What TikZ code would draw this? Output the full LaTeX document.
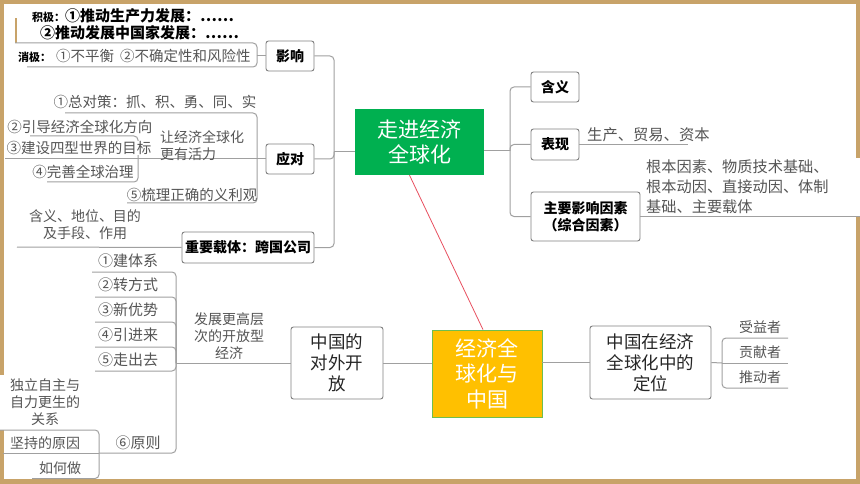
\documentclass[tikz,border=0pt]{standalone}
\usepackage{fontspec}
\setmainfont{Noto Sans CJK SC}
\definecolor{tanc}{RGB}{200,163,105}
\definecolor{boxc}{RGB}{128,128,128}
\definecolor{linec}{RGB}{160,160,160}
\definecolor{leafc}{RGB}{85,85,85}
\definecolor{greenc}{RGB}{0,176,80}
\definecolor{yellowc}{RGB}{255,192,0}
\definecolor{redc}{RGB}{232,80,96}
\definecolor{ybord}{RGB}{110,190,80}
\begin{document}
\begin{tikzpicture}[x=1pt,y=-1pt,
  box/.style={draw=boxc, rounded corners=2.5, fill=white, line width=0.9, text=black,
    font=\bfseries\fontsize{14}{17}\selectfont, inner sep=0, align=center},
  bigbox/.style={draw=boxc, rounded corners=2.5, fill=white, line width=0.9, text=black!85,
    font=\fontsize{17.5}{21}\selectfont, inner sep=0, align=center},
  leaf/.style={text=leafc, font=\fontsize{14.5}{17}\selectfont, inner sep=0, align=center},
  conn/.style={draw=linec, line width=1, rounded corners=4}]
\useasboundingbox (0,0) rectangle (860,484);
\fill[tanc] (0,0) rectangle (860,484);
\fill[white] (4,4) rectangle (856,479);
\fill[tanc] (15,18) rectangle (17,43);
\fill[white] (640,158) rectangle (860,216);
\fill[white] (0,375) rectangle (99,430);

% main boxes
\node[box, minimum width=48, minimum height=30] (yx) at (290,56) {影响};
\node[box, minimum width=48, minimum height=30] (yd) at (290,159) {应对};
\node[box, minimum width=132, minimum height=31] (zy) at (248,247.5) {重要载体：跨国公司};
\node[fill=greenc, text=white, minimum width=129, minimum height=66, inner sep=0, align=center,
  font=\fontsize{21}{25}\selectfont] (zj) at (419.5,142) {走进经济\\全球化};
\node[box, minimum width=48, minimum height=30] (hy) at (555,87) {含义};
\node[box, minimum width=48, minimum height=31] (bx) at (555,144.5) {表现};
\node[box, minimum width=109, minimum height=49] (zyyx) at (585.5,216.5) {主要影响因素\\（综合因素）};
\node[fill=yellowc, draw=ybord, line width=0.8, text=white, minimum width=110, minimum height=87,
  inner sep=0, align=center, font=\fontsize{21}{25.5}\selectfont] (jj) at (487,373.5) {经济全\\球化与\\中国};
\node[bigbox, minimum width=121, minimum height=73] (dw) at (650.5,362.5) {中国在经济\\全球化中的\\定位};
\node[bigbox, minimum width=92, minimum height=72] (dw2) at (337,363) {中国的\\对外开\\放};

% connectors of the upper tree
\coordinate (s1) at (334,152);
\draw[conn] (zj.west |- s1) -- (s1);
\draw[conn] (s1) |- (yx.east);
\draw[conn] (s1) |- (yd.east);
\draw[conn] (s1) |- (zy.east);
\coordinate (s2) at (510,151);
\draw[conn] (zj.east |- s2) -- (s2);
\draw[conn] (s2) |- (hy.west);
\draw[conn] (s2) |- (bx.west);
\draw[conn] (s2) |- (zyyx.west);
\coordinate (b1) at (688,144.5);
\draw[conn] (bx.east) -- (b1);
\coordinate (g1) at (860,216.5);
\draw[conn] (zyyx.east) -- (g1);

% red link
\draw[redc, line width=0.8] ([xshift=-10pt]zj.south) -- ([xshift=-4pt]jj.north);

% lower tree
\draw[conn] (dw.west -| jj.east) -- (dw.west);
\draw[conn] (jj.west |- dw2.east) -- (dw2.east);
\coordinate (s3) at (722,363);
\coordinate (r1) at (788,338);
\coordinate (r2) at (788,363);
\coordinate (r3) at (788,388);
\draw[conn] (dw.east) -- (s3);
\draw[conn] (s3) |- (r1);
\draw[conn] (s3) -- (r2);
\draw[conn] (s3) |- (r3);

\coordinate (s4) at (176,363);
\draw[conn] (dw2.west) -- (s4);
\coordinate (c1) at (92,272);
\coordinate (c2) at (95,297);
\coordinate (c3) at (95,322);
\coordinate (c4) at (95,347);
\coordinate (c5) at (95,371);
\coordinate (c6) at (99,453);
\foreach \c in {c1,c2,c3,c4,c5,c6} \draw[conn] (s4) |- (\c);
\coordinate (d1) at (0,430);
\coordinate (d2) at (3,453);
\coordinate (d3) at (32,478.5);
\draw[conn] (c6) |- (d1);
\draw[conn] (c6) -- (d2);
\draw[conn] (c6) |- (d3);

% 应对 branch
\coordinate (s6) at (257,159);
\coordinate (s7) at (138,159);
\coordinate (f1) at (65,113);
\coordinate (f2) at (30,136);
\coordinate (f3) at (5,159);
\coordinate (f4) at (47,182);
\coordinate (f5) at (127,203);
\draw[conn] (yd.west) -- (s7);
\draw[conn] (s6) |- (f1);
\draw[conn] (s6) |- (f5);
\draw[conn] (s7) |- (f2);
\draw[conn] (s7) -- (f3);
\draw[conn] (s7) |- (f4);

% 重要载体 branch
\coordinate (h1) at (17,247);
\draw[conn] (zy.west) -- (h1);

% 影响 branch
\coordinate (s8) at (257,56);
\coordinate (k1) at (15,43);
\coordinate (k2) at (27,67);
\draw[conn] (yx.west) -- (s8);
\draw[conn] (s8) |- (k1);
\draw[conn] (s8) |- (k2);

% texts
\node[anchor=west, inner sep=0, text=black] (t1) at (32,16)
  {\bfseries{\fontsize{11}{13}\selectfont 积极：}\fontsize{15}{17}\selectfont ①推动生产力发展：……};
\node[anchor=west, inner sep=0, text=black] (t2) at (40,33)
  {\bfseries\fontsize{15}{17}\selectfont ②推动发展中国家发展：……};
\node[anchor=west, inner sep=0, text=black] (t3) at (18,56)
  {{\bfseries\fontsize{11}{13}\selectfont 消极：}\hspace{5pt}{\color{leafc}\fontsize{14.5}{17}\selectfont ①不平衡\hspace{6pt}②不确定性和风险性}};

\node[leaf] (u1) at (155,102) {①总对策：抓、积、勇、同、实};
\node[leaf] (u2) at (80,127) {②引导经济全球化方向};
\node[leaf, fill=white] (u3) at (79,148) {③建设四型世界的目标};
\node[leaf] (u4) at (83,172) {④完善全球治理};
\node[leaf] (u5) at (192,195) {⑤梳理正确的义利观};
\node[leaf, anchor=west, align=left, font=\fontsize{14}{17}\selectfont] (u6) at (160,145.5) {让经济全球化\\更有活力};
\node[leaf, font=\fontsize{14}{17}\selectfont] (v1) at (85,224.5) {含义、地位、目的\\及手段、作用};

\node[leaf, anchor=west, font=\fontsize{15.3}{17}\selectfont] (w1) at (587,135) {生产、贸易、资本};
\node[leaf, anchor=west, align=left, font=\fontsize{15.2}{20}\selectfont] (w2) at (646,187)
  {根本因素、物质技术基础、\\根本动因、直接动因、体制\\基础、主要载体};

\node[leaf, font=\fontsize{14}{17}\selectfont] (x1) at (760,327) {受益者};
\node[leaf, font=\fontsize{14}{17}\selectfont] (x2) at (760,352) {贡献者};
\node[leaf, font=\fontsize{14}{17}\selectfont] (x3) at (760,377) {推动者};

\node[leaf, font=\fontsize{14}{17}\selectfont] (y0) at (229,336) {发展更高层\\次的开放型\\经济};
\node[leaf, font=\fontsize{15}{17}\selectfont] (y1) at (128,261) {①建体系};
\node[leaf, font=\fontsize{15}{17}\selectfont] (y2) at (128,285) {②转方式};
\node[leaf, font=\fontsize{15}{17}\selectfont] (y3) at (128,310) {③新优势};
\node[leaf, font=\fontsize{15}{17}\selectfont] (y4) at (128,335) {④引进来};
\node[leaf, font=\fontsize{15}{17}\selectfont] (y5) at (128,360) {⑤走出去};
\node[leaf, font=\fontsize{15}{17}\selectfont] (y6) at (138,443) {⑥原则};
\node[leaf, font=\fontsize{14}{17}\selectfont] (z1) at (45,402) {独立自主与\\自力更生的\\关系};
\node[leaf, font=\fontsize{14}{17}\selectfont] (z2) at (45,443) {坚持的原因};
\node[leaf, font=\fontsize{14}{17}\selectfont] (z3) at (60,468) {如何做};
\end{tikzpicture}
\end{document}
